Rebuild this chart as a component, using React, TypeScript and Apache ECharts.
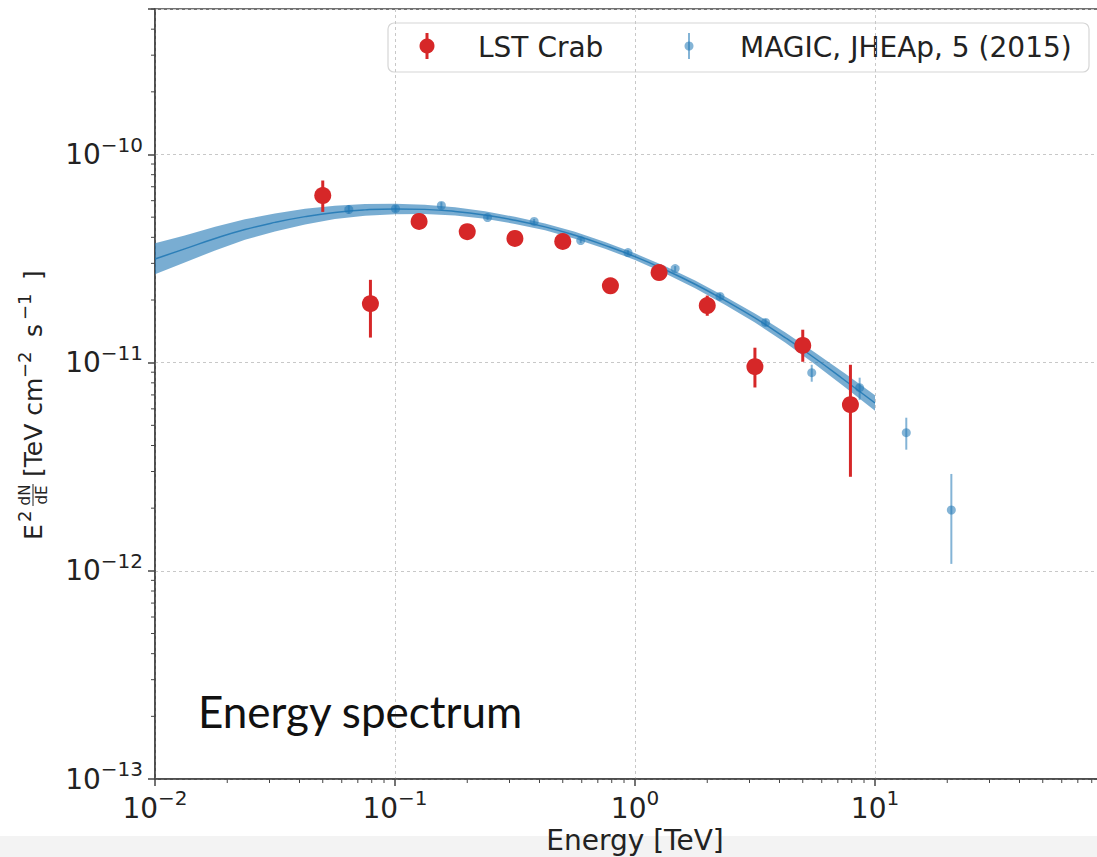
import React, { useEffect, useRef } from 'react';
import * as echarts from 'echarts';

// ---- data ----
const lstEnergy = [0.05, 0.079, 0.126, 0.2, 0.316, 0.5, 0.79, 1.26, 2.0, 3.16, 5.0, 7.9];
const lstFlux = [6.35e-11, 1.92e-11, 4.77e-11, 4.26e-11, 3.95e-11, 3.82e-11, 2.34e-11, 2.71e-11, 1.88e-11, 9.57e-12, 1.21e-11, 6.28e-12];
const lstLow = [5.3e-11, 1.32e-11, 4.6e-11, 4.1e-11, 3.8e-11, 3.67e-11, 2.25e-11, 2.6e-11, 1.68e-11, 7.6e-12, 1.01e-11, 2.83e-12];
const lstHigh = [7.5e-11, 2.5e-11, 4.95e-11, 4.42e-11, 4.1e-11, 3.97e-11, 2.43e-11, 2.82e-11, 2.1e-11, 1.18e-11, 1.44e-11, 9.77e-12];

const magicEnergy = [0.0642, 0.1005, 0.156, 0.243, 0.38, 0.594, 0.935, 1.47, 2.26, 3.5, 5.45, 8.63, 13.5, 20.8];
const magicFlux = [5.44e-11, 5.49e-11, 5.69e-11, 4.98e-11, 4.77e-11, 3.86e-11, 3.38e-11, 2.83e-11, 2.08e-11, 1.56e-11, 8.95e-12, 7.58e-12, 4.61e-12, 1.96e-12];
const magicLow = [5.2e-11, 5.3e-11, 5.5e-11, 4.85e-11, 4.65e-11, 3.76e-11, 3.29e-11, 2.75e-11, 2.01e-11, 1.5e-11, 8.1e-12, 6.63e-12, 3.82e-12, 1.08e-12];
const magicHigh = [5.7e-11, 5.7e-11, 5.9e-11, 5.12e-11, 4.9e-11, 3.96e-11, 3.47e-11, 2.91e-11, 2.15e-11, 1.62e-11, 9.77e-12, 8.47e-12, 5.44e-12, 2.92e-12];

const fitEnergy = [0.01, 0.0133, 0.0178, 0.0237, 0.0316, 0.0422, 0.0562, 0.075, 0.1, 0.133, 0.178, 0.237, 0.316, 0.422, 0.562, 0.75, 1, 1.33, 1.78, 2.37, 3.16, 4.22, 5.62, 7.5, 10];
const fitCenter = [3.15e-11, 3.52e-11, 3.95e-11, 4.36e-11, 4.72e-11, 5.03e-11, 5.27e-11, 5.42e-11, 5.48e-11, 5.45e-11, 5.33e-11, 5.12e-11, 4.83e-11, 4.49e-11, 4.09e-11, 3.66e-11, 3.23e-11, 2.8e-11, 2.38e-11, 1.99e-11, 1.64e-11, 1.32e-11, 1.05e-11, 8.21e-12, 6.4e-12];
const fitHigh = [3.75e-11, 4.08e-11, 4.5e-11, 4.88e-11, 5.21e-11, 5.49e-11, 5.67e-11, 5.78e-11, 5.8e-11, 5.74e-11, 5.58e-11, 5.34e-11, 5.02e-11, 4.66e-11, 4.25e-11, 3.8e-11, 3.35e-11, 2.91e-11, 2.48e-11, 2.08e-11, 1.725e-11, 1.4e-11, 1.12e-11, 8.86e-12, 6.98e-12];
const fitLow = [2.66e-11, 3.03e-11, 3.46e-11, 3.89e-11, 4.27e-11, 4.61e-11, 4.9e-11, 5.08e-11, 5.17e-11, 5.18e-11, 5.09e-11, 4.91e-11, 4.64e-11, 4.33e-11, 3.94e-11, 3.53e-11, 3.11e-11, 2.69e-11, 2.28e-11, 1.9e-11, 1.56e-11, 1.25e-11, 9.84e-12, 7.61e-12, 5.87e-12];

// axis ranges and tick decades
const xMin = 0.01;
const xMax = 100;
const yMin = 1e-13;
const yMax = 5e-10;
const xDecades = [-2, -1, 0, 1];
const yDecades = [-13, -12, -11, -10];
const minorFactors = [2, 3, 4, 5, 6, 7, 8, 9];

const FONT = '"DejaVu Sans"';
const AXIS_COLOR = '#444';
const TEXT_COLOR = '#222';
const RED = '#d62728';
const BLUE = '#1f77b4';

const powLabel = (v: number) => {
  const l = Math.log10(v);
  const e = Math.round(l);
  if (Math.abs(l - e) > 1e-6) return '';
  const es = e < 0 ? '\u2212' + -e : String(e);
  return `{b|10}{s|${es}}`;
};

const richLabel = {
  b: { fontSize: 28, fontFamily: FONT, color: TEXT_COLOR, lineHeight: 40 },
  s: { fontSize: 20, fontFamily: FONT, color: TEXT_COLOR, verticalAlign: 'top', lineHeight: 22 },
};

export default function App() {
  const ref = useRef<HTMLDivElement>(null);

  useEffect(() => {
    if (!ref.current) return;
    const chart = echarts.init(ref.current, undefined, { renderer: 'svg' });

    const xMinor: number[][] = [];
    xDecades.forEach((d) => minorFactors.forEach((k) => xMinor.push([k * Math.pow(10, d), yMin])));
    const yMinor: number[][] = [];
    yDecades.forEach((d) =>
      minorFactors.forEach((k) => {
        const v = k * Math.pow(10, d);
        if (v <= yMax * 1.0001) yMinor.push([xMin, v]);
      })
    );

    const errRender = (color: string, r: number, lw: number, opacity: number) => (params: any, api: any) => {
      const x = api.value(0);
      const c = api.coord([x, api.value(1)]);
      const lo = api.coord([x, api.value(2)]);
      const hi = api.coord([x, api.value(3)]);
      return {
        type: 'group',
        children: [
          { type: 'line', shape: { x1: c[0], y1: lo[1], x2: c[0], y2: hi[1] }, style: { stroke: color, lineWidth: lw, opacity } },
          { type: 'circle', shape: { cx: c[0], cy: c[1], r }, style: { fill: color, opacity } },
        ],
      };
    };

    const sup = (text: string, x: number) => ({
      type: 'text',
      style: { text, x, y: -9, font: `18px ${FONT}`, fill: TEXT_COLOR, align: 'left', verticalAlign: 'middle' },
    });
    const big = (text: string, x: number) => ({
      type: 'text',
      style: { text, x, y: 0, font: `25px ${FONT}`, fill: TEXT_COLOR, align: 'left', verticalAlign: 'middle' },
    });

    const option: any = {
      animation: false,
      backgroundColor: '#ffffff',
      grid: {
        left: 155,
        top: 9,
        width: 960,
        height: 770,
        containLabel: false,
        outerBoundsMode: 'none',
        show: true,
        borderColor: AXIS_COLOR,
        borderWidth: 1.5,
        backgroundColor: 'transparent',
      },
      xAxis: {
        type: 'log',
        logBase: 10,
        min: xMin,
        max: xMax,
        axisLine: { show: true, lineStyle: { color: AXIS_COLOR, width: 1.5 } },
        axisTick: { show: true, length: 7, lineStyle: { color: AXIS_COLOR, width: 1.5 } },
        splitLine: { show: true, lineStyle: { color: '#c8c8c8', width: 1, type: [3, 3] } },
        axisLabel: { formatter: powLabel, rich: richLabel, margin: 9, showMaxLabel: false },
        name: 'Energy [TeV]',
        nameLocation: 'middle',
        nameGap: 44,
        nameTextStyle: { fontFamily: FONT, fontSize: 28, color: TEXT_COLOR },
      },
      yAxis: {
        type: 'log',
        logBase: 10,
        min: yMin,
        max: yMax,
        axisLine: { show: true, lineStyle: { color: AXIS_COLOR, width: 1.5 } },
        axisTick: { show: true, length: 7, lineStyle: { color: AXIS_COLOR, width: 1.5 } },
        splitLine: { show: true, lineStyle: { color: '#c8c8c8', width: 1, type: [3, 3] } },
        axisLabel: { formatter: powLabel, rich: richLabel, margin: 12 },
      },
      series: [
        {
          type: 'custom',
          name: 'fit band',
          coordinateSystem: 'cartesian2d',
          encode: { x: 0, y: [1, 2] },
          data: fitEnergy.map((e, i) => [e, fitLow[i], fitHigh[i]]),
          renderItem: (params: any, api: any) => {
            if (params.dataIndex !== 0) return null;
            const upper = fitEnergy.map((e, i) => api.coord([e, fitHigh[i]]));
            const lower = fitEnergy.map((e, i) => api.coord([e, fitLow[i]])).reverse();
            return {
              type: 'polygon',
              shape: { points: upper.concat(lower) },
              style: { fill: BLUE, opacity: 0.6 },
            };
          },
          z: 2,
        },
        {
          type: 'line',
          name: 'fit',
          data: fitEnergy.map((e, i) => [e, fitCenter[i]]),
          showSymbol: false,
          symbol: 'none',
          smooth: true,
          lineStyle: { color: BLUE, width: 1.5, opacity: 0.85 },
          z: 3,
        },
        {
          type: 'custom',
          name: 'MAGIC, JHEAp, 5 (2015)',
          coordinateSystem: 'cartesian2d',
          encode: { x: 0, y: 1 },
          data: magicEnergy.map((e, i) => [e, magicFlux[i], magicLow[i], magicHigh[i]]),
          renderItem: errRender(BLUE, 4.5, 2, 0.55),
          z: 4,
        },
        {
          type: 'custom',
          name: 'LST Crab',
          coordinateSystem: 'cartesian2d',
          encode: { x: 0, y: 1 },
          data: lstEnergy.map((e, i) => [e, lstFlux[i], lstLow[i], lstHigh[i]]),
          renderItem: errRender(RED, 8.5, 3, 1),
          z: 5,
        },
        {
          type: 'custom',
          name: 'x minor ticks',
          coordinateSystem: 'cartesian2d',
          encode: { x: 0, y: 1 },
          clip: false,
          silent: true,
          data: xMinor,
          renderItem: (params: any, api: any) => {
            const p = api.coord([api.value(0), api.value(1)]);
            return { type: 'line', shape: { x1: p[0], y1: p[1], x2: p[0], y2: p[1] + 4 }, style: { stroke: AXIS_COLOR, lineWidth: 1 } };
          },
        },
        {
          type: 'custom',
          name: 'y minor ticks',
          coordinateSystem: 'cartesian2d',
          encode: { x: 0, y: 1 },
          clip: false,
          silent: true,
          data: yMinor,
          renderItem: (params: any, api: any) => {
            const p = api.coord([api.value(0), api.value(1)]);
            return { type: 'line', shape: { x1: p[0] - 4, y1: p[1], x2: p[0], y2: p[1] }, style: { stroke: AXIS_COLOR, lineWidth: 1 } };
          },
        },
      ],
      graphic: [
        {
          type: 'rect',
          z: -1,
          silent: true,
          shape: { x: 0, y: 836, width: 1097, height: 21 },
          style: { fill: '#f3f3f3' },
        },
        {
          type: 'group',
          z: 100,
          children: [
            { type: 'rect', shape: { x: 388, y: 23, width: 701, height: 49, r: 6 }, style: { fill: 'rgba(255,255,255,0.85)', stroke: '#d6d6d6', lineWidth: 1.2 } },
            { type: 'line', shape: { x1: 427, y1: 33, x2: 427, y2: 59 }, style: { stroke: RED, lineWidth: 3 } },
            { type: 'circle', shape: { cx: 427, cy: 46, r: 7.5 }, style: { fill: RED } },
            { type: 'text', style: { text: 'LST Crab', x: 478, y: 47, font: `28px ${FONT}`, fill: TEXT_COLOR, align: 'left', verticalAlign: 'middle' } },
            { type: 'line', shape: { x1: 689, y1: 33, x2: 689, y2: 59 }, style: { stroke: BLUE, lineWidth: 2, opacity: 0.55 } },
            { type: 'circle', shape: { cx: 689, cy: 46, r: 4.5 }, style: { fill: BLUE, opacity: 0.55 } },
            { type: 'text', style: { text: 'MAGIC, JHEAp, 5 (2015)', x: 740, y: 47, font: `28px ${FONT}`, fill: TEXT_COLOR, align: 'left', verticalAlign: 'middle' } },
          ],
        },
        {
          type: 'group',
          x: 33,
          y: 540,
          rotation: Math.PI / 2,
          children: [
            big('E', 0),
            sup('2', 18),
            { type: 'text', style: { text: 'dN', x: 45, y: -8, font: `15px ${FONT}`, fill: TEXT_COLOR, align: 'center', verticalAlign: 'middle' } },
            { type: 'line', shape: { x1: 34, y1: 0, x2: 56, y2: 0 }, style: { stroke: TEXT_COLOR, lineWidth: 1 } },
            { type: 'text', style: { text: 'dE', x: 45, y: 9, font: `15px ${FONT}`, fill: TEXT_COLOR, align: 'center', verticalAlign: 'middle' } },
            big('[TeV cm', 63),
            sup('\u22122', 162),
            big('s', 203),
            sup('\u22121', 220),
            big(']', 260),
          ],
        },
        {
          type: 'text',
          z: 100,
          style: { text: 'Energy spectrum', x: 198, y: 711, font: '44px Lato', fill: '#111', align: 'left', verticalAlign: 'middle' },
        },
      ],
    };

    chart.setOption(option);
    return () => chart.dispose();
  }, []);

  return (
    <div style={{ position: 'fixed', left: 0, top: 0, width: 1097, height: 857, background: '#fff' }}>
      <div ref={ref} style={{ width: 1097, height: 857 }} />
    </div>
  );
}
